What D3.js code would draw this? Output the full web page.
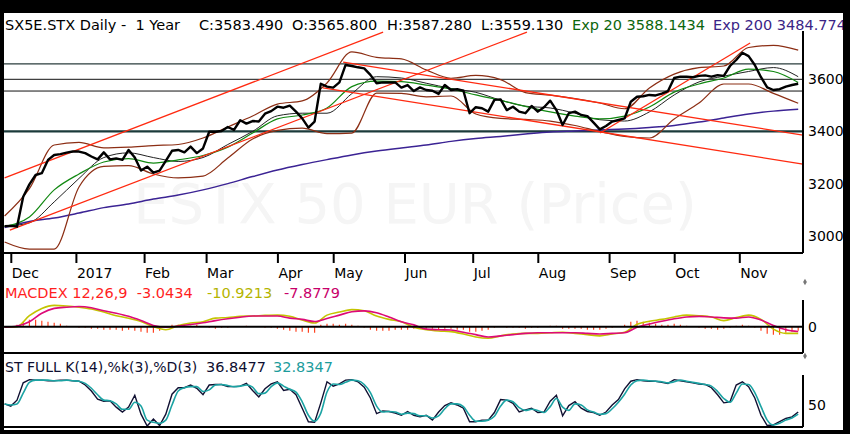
<!DOCTYPE html>
<html>
<head>
<meta charset="utf-8">
<script src="https://cdn.jsdelivr.net/npm/d3@7"></script>
<style>
html, body { margin: 0; padding: 0; background: #000; }
svg { display: block; font-family: "DejaVu Sans", Verdana, sans-serif; }
text { white-space: pre; }
</style>
</head>
<body>
<svg id="chart" width="850" height="434"></svg>
<script>
/* SX5E daily, one year: price with EMA/Bollinger, MACD and stochastic panels */

// x is the trading-day index (0 = 29 Nov 2016)
var monthLabels = ["Dec", "2017", "Feb", "Mar", "Apr", "May", "Jun", "Jul", "Aug", "Sep", "Oct", "Nov"];
var monthIdx = [2, 23, 45, 65, 88, 106, 129, 151, 172, 195, 216, 237];

// close, every 2nd trading day
var closeStep = 2;
var closes = [3037,3038,3035,3150,3197,3233,3240,3291,3310,3313,
  3319,3323,3323,3317,3304,3293,3320,3293,3297,3291,
  3329,3300,3250,3265,3242,3250,3287,3326,3329,3320,
  3342,3317,3335,3399,3399,3402,3417,3406,3443,3430,
  3440,3438,3468,3478,3495,3491,3499,3476,3450,3415,
  3438,3583,3572,3568,3588,3655,3651,3646,3642,3617,
  3585,3588,3588,3588,3568,3578,3555,3569,3559,3556,
  3544,3578,3559,3562,3556,3470,3493,3489,3476,3521,
  3523,3482,3495,3476,3470,3498,3476,3493,3518,3482,
  3425,3470,3476,3463,3459,3434,3408,3421,3438,3444,
  3450,3514,3533,3535,3540,3538,3545,3555,3605,3610,
  3610,3608,3613,3615,3610,3616,3613,3651,3674,3702,
  3689,3655,3608,3569,3559,3562,3572,3578,3583];

// smooth overlays, every 8th trading day
var overlayStep = 8;
var ema20 = [3036,3072,3176,3237,3283,3296,3279,3291,3308,3340,3394,3448,3463,3490,3572,3593,3591,
  3578,3563,3540,3519,3496,3475,3459,3448,3459,3494,3551,3582,3605,3639,3630,3588];
var bbMid = [3036,3050,3130,3220,3300,3318,3300,3285,3300,3350,3400,3460,3470,3470,3545,3610,3605,
  3585,3565,3550,3520,3497,3490,3470,3445,3440,3475,3540,3590,3612,3630,3645,3610];
var bbUpper = [3076,3181,3348,3358,3337,3340,3346,3350,3375,3417,3459,3505,3517,3586,3705,3684,3678,
  3636,3604,3615,3599,3549,3539,3526,3509,3487,3567,3620,3645,3651,3722,3730,3712];
var bbLower = [2976,2949,2949,3187,3266,3269,3237,3222,3229,3298,3371,3404,3413,3392,3394,3547,3546,
  3533,3536,3467,3450,3446,3440,3423,3400,3381,3375,3448,3509,3582,3582,3546,3508];
var ema200 = [3032,3055,3068,3087,3108,3122,3141,3156,3176,3200,3227,3252,3273,3292,3310,3325,3337,
  3348,3362,3373,3381,3390,3398,3402,3406,3409,3415,3423,3436,3452,3467,3478,3485];

// horizontal levels and hand-drawn trend lines [day0, price0, day1, price1]
var levels = [3659, 3600, 3555];
var support = 3400;
var trendLines = [
  [0, 3222, 122.1, 3781],
  [1.7, 3022, 168.5, 3781],
  [109.2, 3666, 257.5, 3386],
  [102.7, 3567, 257.5, 3275],
  [192.1, 3394, 240.5, 3739]
];
var priceTicks = [3000, 3200, 3400, 3600];

// MACD 12,26,9 every 4th day, histogram every 2nd day
var macdStep = 4;
var macdLine = [-1,0,18,30,35,34,32,29,24,18,14,8.5,0,-5,2,6,8,14,15,17,17.5,18.5,19,17,11,6,19,24,
  28,26,17.5,12,8,-1,-5,-7,-8,-12,-17,-19,-15,-12,-11,-11,-10,-9,-11,-13,-15,-12,-9,4,9,12,16,19,18,
  16,10,15,19,12,-4,-11,-10.92];
var signalLine = [-1,1,8,22,30,32,33,31,26,22,17,10,2,-1,1,3.5,6.5,10,13,15.5,17.5,17.5,17.5,14,12,
  8.5,13.5,19,24.5,26,23,16,8,3,-4,-5,-5.5,-9,-13,-17,-15,-13,-11,-10,-10,-10,-10,-11,-12,-11,-10,
  -1,4.5,9,13,16,17,16,14.5,14,16,11,2,-5,-7.88];
var histStep = 2;
var histogram = [0,0,2,5,7,7,6,5,4,3,
  1,0,-1,-1,-2,-2,-3,-3,-3,-4,
  -3,-4,-5,-6,-6,-4,-1,2,2,2,
  1,2,0,-1,-2,-1,-1,0,0,1,
  0,0,-1,-1,-2,-3,-4,-5,-5,-6,
  -6,2,3,3,2,3,2,1,-1,-3,
  -4,-4,-4,-3,-3,-3,-2,-2,-3,-2,
  -3,-2,-2,-3,-3,-5,-5,-4,-3,-1,
  0,-1,-1,-1,-2,-1,-1,0,1,1,
  -2,-2,-2,-2,-3,-3,-3,-2,-1,0,
  2,5,6,5,4,3,2,2,3,2,
  1,0,-1,-2,-2,-3,-2,-1,1,2,
  1,-1,-4,-7,-8,-8,-6,-5,-4];

// stochastic full 14,3,3, every 2nd day
var stochStep = 2;
var stochK = [52,48,59,91,97,96,96,95,95,96,
  96,95,94,87,76,61,57,58,46,37,
  46,68,33,11,24,12,33,70,82,82,
  87,81,69,87,88,88,84,84,85,90,
  77,65,80,89,93,77,79,69,44,19,
  18,54,93,85,89,96,97,93,83,63,
  34,39,38,35,31,38,31,28,31,22,
  37,49,54,50,44,19,19,22,22,36,
  60,59,53,37,41,44,36,37,57,68,
  30,49,56,44,38,36,31,37,50,60,
  80,94,97,95,94,94,92,90,97,95,
  93,91,89,88,82,69,54,56,87,93,
  84,63,31,12,13,19,25,28,37];
var stochD = [52,50,52,72,92,96,96,96,95,95,
  96,95,94,90,81,69,59,58,52,42,
  42,55,48,22,18,16,22,50,76,82,
  84,84,75,78,87,88,86,84,85,87,
  83,71,72,84,91,85,79,74,56,31,
  20,35,74,89,88,92,96,95,88,73,
  48,37,38,37,33,35,34,30,30,26,
  30,43,52,52,47,31,20,20,22,29,
  48,59,56,45,40,42,40,36,47,62,
  46,40,52,50,41,37,33,34,43,55,
  70,87,95,96,95,94,93,91,93,96,
  94,92,90,88,85,75,62,55,72,89,
  88,73,47,22,13,16,22,26,33];

// header texts: [text, colour, x]
var mainTitle = [
  ["SX5E.STX Daily -  1 Year", "#000", 5],
  ["C:3583.490", "#000", 199],
  ["O:3565.800", "#000", 292],
  ["H:3587.280", "#000", 387],
  ["L:3559.130", "#000", 481],
  ["Exp 20 3588.1434", "#0c660c", 572],
  ["Exp 200 3484.774", "#3a2486", 713]
];
var macdTitle = [
  ["MACDEX 12,26,9  -3.0434", "#ff1e1e", 5],
  ["-10.9213", "#b4b400", 207],
  ["-7.8779", "#c8006a", 284]
];
var stochTitle = [
  ["ST FULL K(14),%k(3),%D(3)", "#0e0e30", 5],
  ["36.8477", "#0e0e30", 206],
  ["32.8347", "#1c9c9c", 273]
];

var W = 850, H = 434;
var left = 4, right = 803;

var svg = d3.select("#chart");
svg.append("rect").attr("width", W).attr("height", H).attr("fill", "#000");
svg.append("rect").attr("x", 4).attr("y", 13).attr("width", 839).attr("height", 417).attr("fill", "#fff");

var x = d3.scaleLinear().domain([0, 256]).range([4.6, 798.2]);
var yMain = d3.scaleLinear().domain([3000, 3600]).range([235.8, 79.3]);
var yMacd = d3.scaleLinear().domain([-40, 40]).range([351.1, 302.3]);
var yHist = d3.scaleLinear().domain([-10, 10]).range([336.7, 316.7]);
var yStoch = d3.scaleLinear().domain([0, 100]).range([432, 378]);

var defs = svg.append("defs");
function clip(id, y0, y1) {
  defs.append("clipPath").attr("id", id).append("rect")
    .attr("x", left).attr("y", y0).attr("width", right - left).attr("height", y1 - y0);
}
clip("clipMain", 13, 253);
clip("clipMacd", 298, 352);
clip("clipStoch", 372, 427);

function series(step, yScale) {
  return d3.line()
    .x(function(d, i) { return x(i * step); })
    .y(function(d) { return yScale(d); });
}

// ---- main panel
var main = svg.append("g").attr("clip-path", "url(#clipMain)");

main.append("text")
  .attr("x", 415).attr("y", 223)
  .attr("text-anchor", "middle")
  .attr("font-size", 56)
  .attr("fill", "#f5f5f5")
  .text("ESTX 50 EUR (Price)");

main.selectAll(".level").data(levels).enter().append("line")
  .attr("x1", left).attr("x2", right)
  .attr("y1", function(d) { return yMain(d); })
  .attr("y2", function(d) { return yMain(d); })
  .attr("stroke", function(d, i) { return i == 0 ? "#2a3c3c" : "#111"; })
  .attr("stroke-width", function(d, i) { return i == 0 ? 1.3 : 1; });

main.append("line")
  .attr("x1", left).attr("x2", right)
  .attr("y1", yMain(support)).attr("y2", yMain(support))
  .attr("stroke", "#1b3a3a").attr("stroke-width", 2.2);

var smooth = series(overlayStep, yMain).curve(d3.curveMonotoneX);

main.append("path").datum(ema200).attr("d", smooth)
  .attr("fill", "none").attr("stroke", "#3b2394").attr("stroke-width", 1.5);
[bbUpper, bbLower].forEach(function(band) {
  main.append("path").datum(band).attr("d", smooth)
    .attr("fill", "none").attr("stroke", "#8c2e14").attr("stroke-width", 1.2);
});
main.append("path").datum(bbMid).attr("d", smooth)
  .attr("fill", "none").attr("stroke", "#222").attr("stroke-width", 1);
main.append("path").datum(ema20).attr("d", smooth)
  .attr("fill", "none").attr("stroke", "#118811").attr("stroke-width", 1.2);

main.selectAll(".trend").data(trendLines).enter().append("line")
  .attr("x1", function(d) { return x(d[0]); })
  .attr("y1", function(d) { return yMain(d[1]); })
  .attr("x2", function(d) { return x(d[2]); })
  .attr("y2", function(d) { return yMain(d[3]); })
  .attr("stroke", "#ff2a10").attr("stroke-width", 1.3);

main.append("path").datum(closes).attr("d", series(closeStep, yMain))
  .attr("fill", "none").attr("stroke", "#000").attr("stroke-width", 2.4)
  .attr("stroke-linejoin", "round");

// frame of main panel
svg.append("line").attr("x1", left).attr("x2", right).attr("y1", 253).attr("y2", 253)
  .attr("stroke", "#000").attr("stroke-width", 2);
svg.append("line").attr("x1", right).attr("x2", right).attr("y1", 31).attr("y2", 253)
  .attr("stroke", "#000").attr("stroke-width", 2);

var xAxis = svg.append("g")
  .attr("transform", "translate(0,253)")
  .call(d3.axisBottom(x).tickValues(monthIdx)
    .tickFormat(function(d, i) { return monthLabels[i]; })
    .tickSize(10).tickPadding(5));
xAxis.select(".domain").remove();
xAxis.selectAll("line").attr("stroke", "#000").attr("stroke-width", 2);
xAxis.selectAll("text").attr("text-anchor", "start").attr("x", 0.5)
  .attr("font-size", 14).attr("font-family", "DejaVu Sans").attr("fill", "#000");

function rightAxis(scale, ticks) {
  var g = svg.append("g").attr("transform", "translate(" + right + ",0)")
    .call(d3.axisRight(scale).tickValues(ticks).tickSize(0).tickPadding(5)
      .tickFormat(d3.format("d")));
  g.select(".domain").remove();
  g.selectAll("text").attr("font-size", 14).attr("font-family", "DejaVu Sans").attr("fill", "#000");
  return g;
}
rightAxis(yMain, priceTicks);

// ---- MACD panel
var macd = svg.append("g").attr("clip-path", "url(#clipMacd)");
macd.selectAll(".bar").data(histogram).enter().append("line")
  .attr("x1", function(d, i) { return x(i * histStep); })
  .attr("x2", function(d, i) { return x(i * histStep); })
  .attr("y1", yHist(0))
  .attr("y2", function(d) { return yHist(d); })
  .attr("stroke", "#ff4422").attr("stroke-width", 1.2);

svg.append("line").attr("x1", left).attr("x2", right).attr("y1", yMacd(0)).attr("y2", yMacd(0))
  .attr("stroke", "#000").attr("stroke-width", 2);

var macdCurve = series(macdStep, yMacd).curve(d3.curveMonotoneX);
macd.append("path").datum(macdLine).attr("d", macdCurve)
  .attr("fill", "none").attr("stroke", "#c4c400").attr("stroke-width", 1.6);
macd.append("path").datum(signalLine).attr("d", macdCurve)
  .attr("fill", "none").attr("stroke", "#dd0a78").attr("stroke-width", 1.6);

svg.append("line").attr("x1", left).attr("x2", right).attr("y1", 353).attr("y2", 353)
  .attr("stroke", "#000").attr("stroke-width", 2);
svg.append("line").attr("x1", right).attr("x2", right).attr("y1", 300).attr("y2", 353)
  .attr("stroke", "#000").attr("stroke-width", 2);
rightAxis(yMacd, [0]);

// ---- stochastic panel
var stoch = svg.append("g").attr("clip-path", "url(#clipStoch)");
stoch.append("path").datum(stochK).attr("d", series(stochStep, yStoch))
  .attr("fill", "none").attr("stroke", "#111133").attr("stroke-width", 1.4);
stoch.append("path").datum(stochD).attr("d", series(stochStep, yStoch).curve(d3.curveMonotoneX))
  .attr("fill", "none").attr("stroke", "#1ba3a3").attr("stroke-width", 1.6);

svg.append("line").attr("x1", left).attr("x2", right).attr("y1", 427).attr("y2", 427)
  .attr("stroke", "#000").attr("stroke-width", 2);
svg.append("line").attr("x1", right).attr("x2", right).attr("y1", 375).attr("y2", 427)
  .attr("stroke", "#000").attr("stroke-width", 2);
rightAxis(yStoch, [50]);

// small axis-end markers
svg.selectAll(".mark").data([282, 356]).enter().append("path")
  .attr("d", d3.symbol().type(d3.symbolDiamond).size(12))
  .attr("transform", function(d) { return "translate(" + (right + 2) + "," + d + ")"; })
  .attr("fill", "#777");

// ---- titles
function title(y, parts, size) {
  svg.selectAll(null).data(parts).enter().append("text")
    .attr("x", function(d) { return d[2]; })
    .attr("y", y)
    .attr("font-size", function(d, i) { return i == 0 && size ? size : 14.5; })
    .attr("fill", function(d) { return d[1]; })
    .text(function(d) { return d[0]; });
}
title(29.5, mainTitle);
title(297.5, macdTitle);
title(371.5, stochTitle, 14);

// outer black frame on top
svg.append("rect").attr("x", 843).attr("y", 0).attr("width", 7).attr("height", H).attr("fill", "#000");
svg.append("rect").attr("x", 0).attr("y", 430).attr("width", W).attr("height", 4).attr("fill", "#000");
</script>
</body>
</html>
